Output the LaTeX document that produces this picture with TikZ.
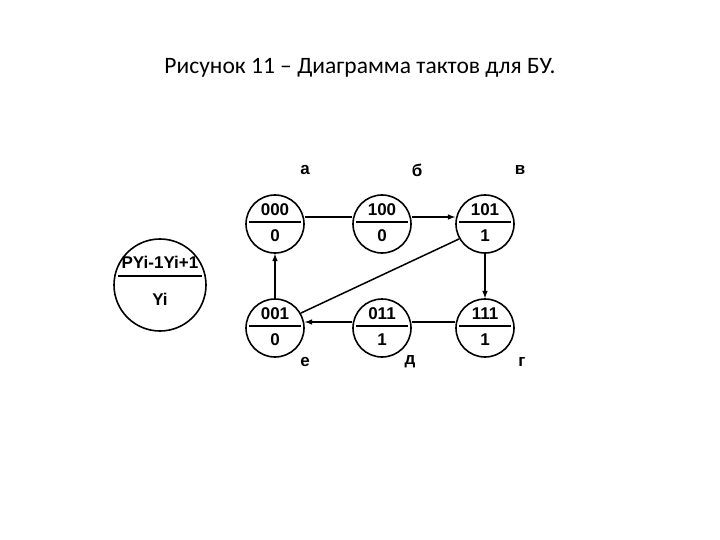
\documentclass[tikz,border=0pt]{standalone}
\usepackage{fontspec}
\setmainfont{Liberation Sans}
\newfontfamily\titlefont{Carlito}
\begin{document}
\begin{tikzpicture}[x=1pt,y=-1pt,
  st/.style={circle,draw,line width=1.6pt,minimum size=58pt,inner sep=0pt},
  lb/.style={font=\bfseries\fontsize{17}{17}\selectfont},
  con/.style={line width=1.5pt},
  arr/.style={con,-latex}]
\useasboundingbox (0,0) rectangle (720,540);
\node[font=\titlefont\fontsize{23.5}{23.5}\selectfont] (t) at (360,68) {Рисунок 11 – Диаграмма тактов для БУ.};
\foreach \n/\x/\y/\top/\bot in {a/275/224/000/0, b/382/224/100/0, v/485/224/101/1, e/275/328/001/0, d/382/328/011/1, g/485/328/111/1}{
  \node[st] (\n) at (\x,\y) {};
  \node[lb] (\n t) at (\x,\y-14) {\top};
  \node[lb] (\n b) at (\x,\y+12) {\bot};
  \draw[con] (\x-26,\y-2) -- (\x+26,\y-2);
}
\node[st,minimum size=92pt] (L) at (160,285) {};
\node[lb] (Lt) at (160,262) {PYi-1Yi+1};
\node[lb] (Lb) at (160,299) {Yi};
\draw[con] (118,276) -- (202,276);
\node[lb] (la) at (305,170) {а};
\node[lb] (lbb) at (417,170) {б};
\node[lb] (lv) at (520,170) {в};
\node[lb] (le) at (305,362) {е};
\node[lb] (ld) at (410,362) {д};
\node[lb] (lg) at (522,362) {г};
\draw[con] (a.east |- 0,217) -- (b.west |- 0,217);
\draw[arr] (b.east |- 0,217) -- (v.west |- 0,217);
\draw[arr] (v.south) -- (g.north);
\draw[con] (g.west |- 0,322) -- (d.east |- 0,322);
\draw[arr] (d.west |- 0,322) -- (e.east |- 0,322);
\draw[arr] (e.north) -- (a.south);
\draw[con] (v.-150) -- (e.30);
\end{tikzpicture}
\end{document}
